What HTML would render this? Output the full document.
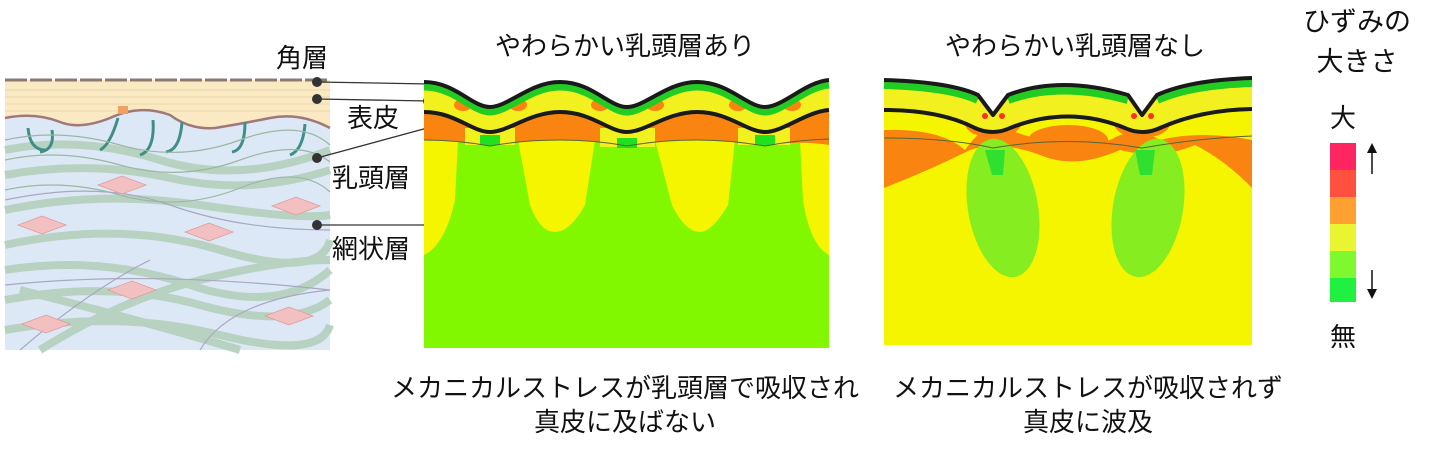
<!DOCTYPE html>
<html><head><meta charset="utf-8"><style>
body{margin:0;background:#fff;width:1434px;height:458px;overflow:hidden}
svg{display:block}
text{font-family:"Liberation Sans","Noto Sans CJK JP",sans-serif;fill:#111}
</style></head><body>
<svg width="1434" height="458" viewBox="0 0 1434 458" xmlns="http://www.w3.org/2000/svg">
<defs>
<path id="w1" d="M424,82 C455,82 472,107 490,107 C508,107 530,82 560,82 C592,82 609,107 627,107 C645,107 667,82 697,82 C729,82 747,107 765,107 C783,107 805,82 829,80"/>
</defs>
<!-- LEFT ILLUSTRATION -->
<rect x="5" y="80" width="325" height="270" fill="#dde8f6"/>
<path d="M5,80 H330 V128 Q300,112 270,118 Q240,124 215,128 Q190,130 170,115 Q140,104 110,118 Q80,130 60,122 Q35,112 5,118 Z" fill="#fbe9c3"/>
<g stroke="#e4cfa0" stroke-width="0.8" fill="none">
<path d="M5,90 H330 M5,97 H330 M5,104 H330 M5,111 H330"/>
</g>
<path d="M5,80 H330" stroke="#8a7a70" stroke-width="3" stroke-dasharray="22,3"/>
<path d="M5,118 Q35,112 60,122 Q80,130 110,118 Q140,104 170,115 Q190,130 215,128 Q240,124 270,118 Q300,112 330,128" stroke="#a07878" stroke-width="2.5" fill="none"/>
<rect x="118" y="106" width="10" height="8" fill="#f0a060"/>
<g stroke="#b4d0bc" stroke-width="8" fill="none" opacity="0.9">
<path d="M5,150 Q80,135 160,160 T330,150"/>
<path d="M5,175 Q90,160 170,178 T330,170"/>
<path d="M5,210 Q100,190 200,205 T330,215"/>
<path d="M5,245 Q120,220 220,250 T330,240"/>
<path d="M5,270 Q100,255 190,285 T330,270"/>
<path d="M5,300 Q110,280 200,305 T330,300"/>
<path d="M5,330 Q120,310 220,335 T330,325"/>
<path d="M40,350 Q120,300 200,280 T330,260"/>
<path d="M20,290 Q140,320 240,350"/>
</g>
<g stroke="#3f8f88" stroke-width="3" fill="none">
<path d="M28,128 Q30,150 45,150"/><path d="M52,130 Q55,150 40,152"/>
<path d="M118,118 Q110,145 100,150"/><path d="M153,120 Q155,150 140,155"/>
<path d="M182,122 Q180,150 166,152"/><path d="M245,122 Q245,150 232,152"/>
<path d="M305,124 Q303,150 290,155"/>
</g>
<g stroke="#9ab89f" stroke-width="1.2" fill="none">
<path d="M5,140 Q60,128 120,145 T240,140 T330,145"/>
<path d="M5,160 Q60,148 120,165 T240,160 T330,162"/>
<path d="M5,190 Q60,178 120,195 T240,188 T330,192"/>
</g>
<g stroke="#a8a8c0" stroke-width="1.2" fill="none">
<path d="M5,200 Q100,180 170,205 T330,230"/><path d="M20,350 Q90,290 150,260"/>
<path d="M5,285 Q150,270 330,290"/><path d="M200,350 Q230,300 330,290"/>
</g>
<g fill="#f2c0c0" stroke="#e09a9a" stroke-width="0.8">
<path d="M98,185 l24,-9 l24,9 l-24,9z"/><path d="M272,206 l24,-9 l24,9 l-24,9z"/>
<path d="M18,225 l24,-9 l24,9 l-24,9z"/><path d="M185,232 l24,-9 l24,9 l-24,9z"/>
<path d="M108,290 l24,-9 l24,9 l-24,9z"/><path d="M265,316 l24,-9 l24,9 l-24,9z"/>
<path d="M22,324 l24,-9 l24,9 l-24,9z"/>
</g>
<!-- labels -->
<text x="276" y="67" font-size="26">角層</text>
<text x="347" y="127" font-size="26">表皮</text>
<text x="332" y="187" font-size="26">乳頭層</text>
<text x="332" y="258" font-size="26">網状層</text>
<g stroke="#333" stroke-width="1.3"><path d="M317,82 L431,84 M317,99 L428,101 M317,158 L431,127 M317,225 L431,225"/></g>
<g fill="#333"><circle cx="317" cy="82" r="5"/><circle cx="317" cy="99" r="5"/><circle cx="317" cy="158" r="5"/><circle cx="317" cy="225" r="5"/>
<circle cx="430" cy="83" r="5"/><circle cx="428" cy="101" r="5"/><circle cx="431" cy="128" r="5"/><circle cx="431" cy="226" r="5"/></g>

<!-- MIDDLE PANEL -->
<text x="625" y="55" font-size="26" text-anchor="middle">やわらかい乳頭層あり</text>
<rect x="424" y="80" width="405" height="268" fill="#82f800"/>
<g fill="#f5f500">
<path d="M424,140 H458 L455,200 Q445,245 424,255 Z"/>
<path d="M518,140 H595 L585,205 Q570,232 555,232 Q540,232 530,205 Z"/>
<path d="M655,140 H735 L728,205 Q712,232 700,232 Q685,232 672,205 Z"/>
<path d="M800,140 H829 V255 Q810,245 803,200 Z"/>
</g>
<path d="M424,82 C455,82 472,107 490,107 C508,107 530,82 560,82 C592,82 609,107 627,107 C645,107 667,82 697,82 C729,82 747,107 765,107 C783,107 805,82 829,80 V145 Q800,140 765,146 Q730,140 697,140 Q660,140 627,146 Q595,140 560,140 Q523,140 490,146 Q457,140 424,140 Z" fill="#f3f020"/>
<path d="M424,112 C455,112 472,132 490,132 C508,132 530,112 560,112 C592,112 609,132 627,132 C645,132 667,112 697,112 C729,112 747,132 765,132 C783,132 805,112 829,110 V145 Q800,140 765,146 Q730,140 697,140 Q660,140 627,146 Q595,140 560,140 Q523,140 490,146 Q457,140 424,140 Z" fill="#fa8410"/>
<g fill="#f3f020"><rect x="465" y="128" width="50" height="17"/><rect x="600" y="128" width="55" height="19"/><rect x="738" y="128" width="52" height="17"/></g>
<g fill="#20e020"><rect x="480" y="135" width="20" height="10"/><rect x="617" y="138" width="20" height="10"/><rect x="755" y="135" width="20" height="10"/></g>
<g fill="#fa8410"><ellipse cx="463" cy="105" rx="9" ry="6"/><ellipse cx="518" cy="105" rx="9" ry="6"/><ellipse cx="600" cy="105" rx="9" ry="6"/><ellipse cx="655" cy="105" rx="9" ry="6"/><ellipse cx="738" cy="105" rx="9" ry="6"/><ellipse cx="792" cy="105" rx="9" ry="6"/></g>
<path d="M424,87 C455,87 472,112 490,112 C508,112 530,87 560,87 C592,87 609,112 627,112 C645,112 667,87 697,87 C729,87 747,112 765,112 C783,112 805,87 829,85" stroke="#22cc22" stroke-width="7" fill="none"/>
<path d="M424,78 V82 C455,82 472,107 490,107 C508,107 530,82 560,82 C592,82 609,107 627,107 C645,107 667,82 697,82 C729,82 747,107 765,107 C783,107 805,82 829,80 V78 Z" fill="#fff"/>
<use href="#w1" stroke="#1a1a1a" stroke-width="4" fill="none"/>
<path d="M424,112 C455,112 472,132 490,132 C508,132 530,112 560,112 C592,112 609,132 627,132 C645,132 667,112 697,112 C729,112 747,132 765,132 C783,132 805,112 829,110" stroke="#1a1a1a" stroke-width="4" fill="none"/>
<path d="M424,140 Q457,140 490,146 Q523,140 560,140 Q595,140 627,146 Q660,140 697,140 Q730,140 765,146 Q797,140 829,139" stroke="#556633" stroke-width="1" fill="none"/>
<text x="625" y="397" font-size="26" text-anchor="middle">メカニカルストレスが乳頭層で吸収され</text>
<text x="625" y="431" font-size="26" text-anchor="middle">真皮に及ばない</text>

<!-- RIGHT PANEL -->
<text x="1075" y="55" font-size="26" text-anchor="middle">やわらかい乳頭層なし</text>
<rect x="884" y="78" width="368" height="267" fill="#f5f500"/>
<path d="M884,130 Q940,128 965,150 Q985,120 1010,130 Q1060,150 1110,140 Q1135,125 1160,140 Q1200,130 1252,140 V188 Q1225,160 1195,145 Q1160,160 1120,150 Q1075,170 1040,155 Q1000,140 970,150 Q930,170 884,188 Z" fill="#fa8410"/>
<g fill="#fa8410"><ellipse cx="993" cy="123" rx="28" ry="15"/><ellipse cx="1142" cy="123" rx="28" ry="15"/><ellipse cx="1068" cy="140" rx="40" ry="15"/></g>
<g fill="#86ee20">
<ellipse cx="1003" cy="208" rx="35" ry="70" transform="rotate(-10 1003 208)"/>
<ellipse cx="1148" cy="208" rx="35" ry="70" transform="rotate(10 1148 208)"/>
</g>
<g fill="#30e030"><path d="M985,150 H1005 L1003,175 H992 Z"/><path d="M1135,150 H1155 L1152,175 H1140 Z"/></g>
<path d="M884,80 Q950,82 978,95 L993,115 L1008,95 Q1060,75 1128,95 L1142,115 L1157,95 Q1190,80 1252,78 V112 Q1200,110 1160,128 Q1142,136 1125,128 Q1068,105 1010,128 Q993,136 975,128 Q940,110 884,110 Z" fill="#f3f020"/>
<path d="M884,84 Q950,86 978,99 M1008,99 Q1060,80 1128,99 M1157,99 Q1190,84 1252,82" stroke="#22cc22" stroke-width="10" fill="none"/>
<path d="M884,76 V80 Q950,82 978,95 L993,115 L1008,95 Q1060,75 1128,95 L1142,115 L1157,95 Q1190,80 1252,78 V76 Z" fill="#fff"/>
<g fill="#ff3020"><circle cx="985" cy="116" r="3"/><circle cx="1002" cy="116" r="3"/><circle cx="1134" cy="116" r="3"/><circle cx="1151" cy="116" r="3"/></g>
<path d="M884,80 Q950,82 978,95 L993,115 L1008,95 Q1060,75 1128,95 L1142,115 L1157,95 Q1190,80 1252,78" stroke="#1a1a1a" stroke-width="4" fill="none" stroke-linejoin="round"/>
<path d="M884,110 Q940,110 975,128 Q993,136 1010,128 Q1068,105 1125,128 Q1142,136 1160,128 Q1200,110 1252,109" stroke="#1a1a1a" stroke-width="4" fill="none"/>
<path d="M884,138 Q950,138 993,148 Q1068,135 1142,148 Q1200,138 1252,136" stroke="#556633" stroke-width="1" fill="none"/>
<text x="1088" y="397" font-size="26" text-anchor="middle">メカニカルストレスが吸収されず</text>
<text x="1088" y="431" font-size="26" text-anchor="middle">真皮に波及</text>

<!-- LEGEND -->
<text x="1357" y="31" font-size="27" text-anchor="middle">ひずみの</text>
<text x="1357" y="71" font-size="27" text-anchor="middle">大きさ</text>
<text x="1343" y="127" font-size="26" text-anchor="middle">大</text>
<rect x="1330" y="143" width="26" height="27" fill="#ff2560"/>
<rect x="1330" y="170" width="26" height="27" fill="#ff5040"/>
<rect x="1330" y="197" width="26" height="27" fill="#ffa030"/>
<rect x="1330" y="224" width="26" height="27" fill="#e8f530"/>
<rect x="1330" y="251" width="26" height="27" fill="#80f830"/>
<rect x="1330" y="278" width="26" height="24" fill="#20f040"/>
<path d="M1372,174 V150" stroke="#111" stroke-width="1.5"/><path d="M1367,153 L1372,143 L1377,153Z" fill="#111"/>
<path d="M1372,270 V292" stroke="#111" stroke-width="1.5"/><path d="M1367,289 L1372,299 L1377,289Z" fill="#111"/>
<text x="1343" y="346" font-size="26" text-anchor="middle">無</text>
</svg>
</body></html>
